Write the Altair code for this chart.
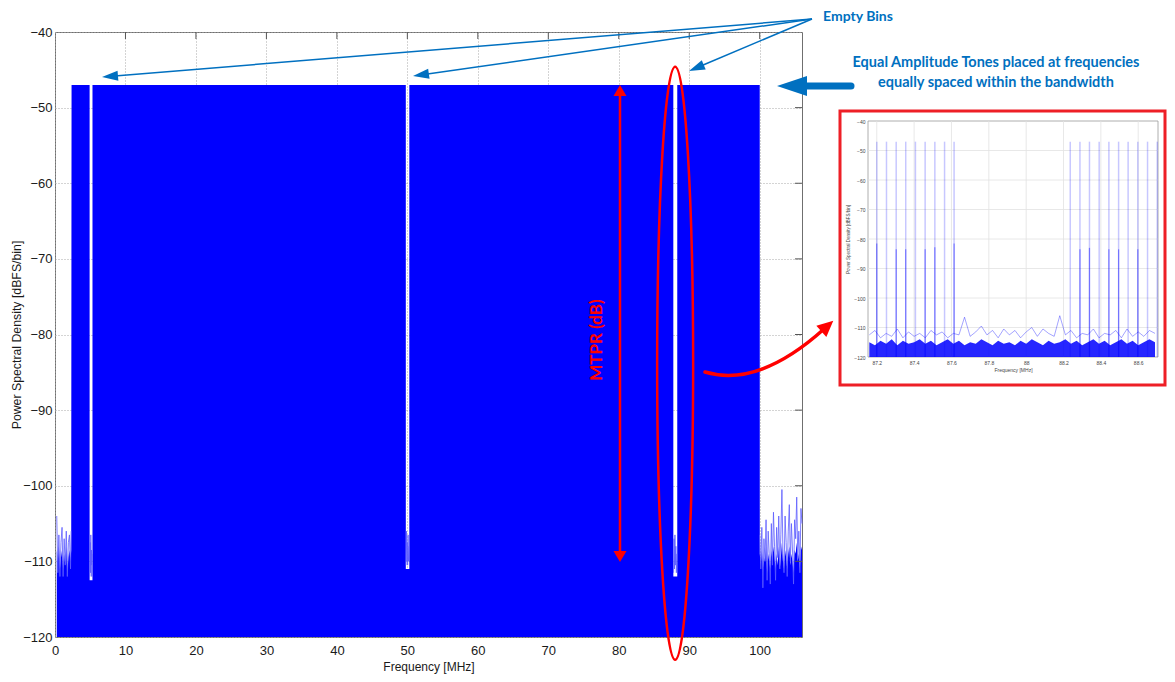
import math
import altair as alt
import pandas as pd

# ---------------- main spectrum data ----------------
x_tick_values = [0, 10, 20, 30, 40, 50, 60, 70, 80, 90, 100]
y_tick_values = [-40, -50, -60, -70, -80, -90, -100, -110, -120]

left_noise_freq = [0.25, 0.4, 0.55, 0.7, 0.85, 1.0, 1.15, 1.3, 1.45, 1.6, 1.75, 1.9, 2.05, 2.2, 2.3]
left_noise_floor = [-108.5, -110.0, -108.0, -111.0, -109.5, -108.5, -111.0, -109.0, -110.5, -108.0,
                    -111.5, -109.5, -108.5, -110.0, -108.5]
left_noise_peak = [-104.0, -111.5, -106.5, -112.0, -107.5, -105.5, -112.0, -107.0, -110.5, -106.0,
                   -112.0, -107.5, -106.5, -111.0, -106.0]

band_freq = [2.35, 4.91, 4.911, 5.12, 5.319, 5.32, 49.78, 49.781, 50.03, 50.279, 50.28,
             87.74, 87.741, 88.02, 88.299, 88.30, 100.0]
band_psd = [-47, -47, -112.5, -112.5, -112.5, -47, -47, -111, -111, -111, -47,
            -47, -112, -112, -112, -47, -47]

right_noise_freq = [100.01, 100.15, 100.3, 100.45, 100.6, 100.75, 100.9, 101.05, 101.2, 101.35,
                    101.5, 101.65, 101.8, 101.95, 102.1, 102.25, 102.4, 102.55, 102.7, 102.85,
                    103.0, 103.15, 103.3, 103.45, 103.6, 103.75, 103.9, 104.05, 104.2, 104.35,
                    104.5, 104.65, 104.8, 104.95, 105.1, 105.25, 105.4, 105.55, 105.7, 105.85,
                    106.0]
right_noise_floor = [-109.0, -110.5, -108.5, -111.0, -109.5, -110.0, -108.0, -111.5, -109.0, -110.0,
                     -111.0, -108.5, -110.0, -108.0, -109.5, -111.0, -109.0, -110.5, -108.0, -111.0,
                     -109.5, -107.5, -110.0, -111.0, -108.5, -109.5, -111.0, -109.0, -108.0, -110.5,
                     -109.0, -110.0, -111.5, -108.5, -109.0, -107.5, -110.0, -109.0, -111.0, -108.0,
                     -108.5]
right_noise_peak = [-106.5, -111.0, -105.5, -113.5, -107.0, -110.0, -104.5, -112.5, -106.0, -109.0,
                    -113.0, -105.0, -110.5, -103.5, -108.0, -112.5, -105.5, -109.5, -104.0, -111.0,
                    -106.5, -100.5, -109.0, -111.5, -104.0, -107.5, -112.0, -106.0, -102.5, -110.0,
                    -105.0, -108.5, -113.0, -104.5, -107.0, -101.5, -109.5, -106.0, -111.5, -103.0,
                    -105.0]

notch_group = ["n5"] * 8 + ["n50"] * 8 + ["n88"] * 8
notch_freq = [4.96, 5.0, 5.04, 5.08, 5.13, 5.18, 5.22, 5.27,
              49.82, 49.87, 49.93, 49.98, 50.04, 50.10, 50.17, 50.23,
              87.78, 87.84, 87.90, 87.97, 88.03, 88.10, 88.17, 88.24]
notch_psd = [-112.0, -107.5, -111.5, -106.5, -110.5, -108.5, -112.0, -109.0,
             -110.5, -106.0, -110.0, -107.5, -110.5, -106.5, -110.0, -108.0,
             -111.5, -107.0, -111.0, -106.5, -110.5, -108.0, -111.5, -109.0]

# ---------------- inset (zoom around 88 MHz) data ----------------
inset_x_ticks = [87.2, 87.4, 87.6, 87.8, 88.0, 88.2, 88.4, 88.6]
inset_domain = [87.153, 88.706]
inset_tone_freq = [87.200, 87.252, 87.304, 87.355, 87.407, 87.459, 87.511, 87.563, 87.614,
                   88.236, 88.288, 88.339, 88.391, 88.443, 88.495, 88.546, 88.598, 88.650, 88.702]
inset_tone_top = [-47] * 19
inset_tone_mid = [-81.5, None, -83.5, -83.5, None, -83.5, -82.8, None, -81.5,
                  None, -83.5, -83.0, None, -83.5, -83.5, None, -83.5, None, None]
inset_noise_freq = [87.16, 87.19, 87.22, 87.25, 87.28, 87.31, 87.34, 87.37, 87.40, 87.43,
                    87.46, 87.49, 87.52, 87.55, 87.58, 87.61, 87.64, 87.67, 87.70, 87.73,
                    87.76, 87.79, 87.82, 87.85, 87.88, 87.91, 87.94, 87.97, 88.00, 88.03,
                    88.06, 88.09, 88.12, 88.15, 88.18, 88.21, 88.24, 88.27, 88.30, 88.33,
                    88.36, 88.39, 88.42, 88.45, 88.48, 88.51, 88.54, 88.57, 88.60, 88.63,
                    88.66, 88.69]
inset_noise_floor = [-115.0, -116.0, -114.5, -115.5, -114.0, -116.0, -114.5, -115.5, -115.0, -114.0,
                     -115.5, -114.5, -116.0, -115.0, -114.0, -115.5, -114.5, -116.0, -115.0, -115.5,
                     -114.0, -115.0, -116.0, -114.5, -115.5, -115.0, -116.0, -114.5, -115.5, -114.0,
                     -115.0, -116.0, -114.5, -115.5, -115.0, -114.0, -115.5, -114.5, -116.0, -115.0,
                     -114.0, -115.5, -114.5, -116.0, -115.0, -114.0, -115.5, -114.5, -116.0, -115.0,
                     -114.0, -115.0]
inset_noise_peak = [-112.5, -111.0, -113.5, -112.0, -113.0, -110.5, -113.5, -111.5, -113.0, -112.0,
                    -113.5, -111.0, -112.5, -111.5, -113.5, -112.0, -112.5, -106.5, -113.0, -111.5,
                    -109.5, -112.5, -111.0, -113.5, -110.5, -112.5, -111.0, -113.5, -111.5, -110.0,
                    -113.0, -110.5, -112.0, -113.0, -106.0, -112.5, -111.0, -113.5, -112.0, -112.5,
                    -110.5, -113.5, -112.0, -112.5, -111.0, -113.5, -110.5, -113.0, -111.5, -113.0,
                    -111.0, -112.0]

# ---------------- layout constants ----------------
W, H = 747, 605           # main plot area
OX, OY = 55, 32           # page position of plot origin
BLUE = "#0000ff"
ANN_BLUE = "#0070C0"
RED = "#ff0000"
FONT = "Liberation Sans"
ANN_FONT = "Lato"

one = pd.DataFrame({"k": [0]})


def px(x):
    return x - OX


def py(y):
    return y - OY


def segment(x1, y1, x2, y2, color, width, cap="butt"):
    return alt.Chart(one).mark_rule(color=color, strokeWidth=width, strokeCap=cap).encode(
        x=alt.value(px(x1)), y=alt.value(py(y1)), x2=alt.value(px(x2)), y2=alt.value(py(y2)))


def head(tipx, tipy, dx, dy, length, half, color):
    n = math.hypot(dx, dy)
    ux, uy = dx / n, dy / n
    cx, cy = tipx - ux * length / 2, tipy - uy * length / 2
    w = 2 * half / length
    shape = f"M0,-1L{w:.4f},1L{-w:.4f},1Z"
    ang = math.degrees(math.atan2(ux, -uy)) % 360
    return alt.Chart(one).mark_point(shape=shape, size=length ** 2, filled=True, color=color,
                                     opacity=1, strokeWidth=0, angle=ang).encode(
        x=alt.value(px(cx)), y=alt.value(py(cy)))


def arrow(sx, sy, tx, ty, color, width, hl, hw):
    dx, dy = tx - sx, ty - sy
    n = math.hypot(dx, dy)
    ex, ey = tx - dx / n * (hl * 0.8), ty - dy / n * (hl * 0.8)
    return [segment(sx, sy, ex, ey, color, width), head(tx, ty, dx, dy, hl, hw, color)]


def label(text, x, y, color, size, angle=0):
    return alt.Chart(one).mark_text(text=text, font=ANN_FONT, fontSize=size, fontWeight="bold",
                                    color=color, align="center", baseline="middle", angle=angle).encode(
        x=alt.value(px(x)), y=alt.value(py(y)))


# ---------------- main layers ----------------
outline = pd.DataFrame({
    "freq": left_noise_freq + band_freq + right_noise_freq,
    "psd": left_noise_floor + band_psd + right_noise_floor,
})
outline["base"] = -120

xs = alt.Scale(domain=[0, 106], nice=False, zero=False)
ys = alt.Scale(domain=[-120, -40], nice=False, zero=False)

axis_x = alt.Axis(values=x_tick_values, title="Frequency [MHz]", grid=True, gridColor="#a8a8a8",
                  gridDash=[1, 2], gridWidth=1, ticks=False, domain=False, labelFont=FONT,
                  labelFontSize=13, labelColor="#1a1a1a", labelPadding=7, labelFlush=False,
                  labelOverlap=False, titleFont=FONT, titleFontSize=12, titleFontWeight="normal",
                  titleColor="#1a1a1a", titlePadding=4)
axis_y = alt.Axis(values=y_tick_values, title="Power Spectral Density [dBFS/bin]", grid=True,
                  gridColor="#a8a8a8", gridDash=[1, 2], gridWidth=1, ticks=False, domain=False,
                  labelFont=FONT, labelFontSize=13, labelColor="#1a1a1a", labelPadding=3,
                  labelFlush=False, labelOverlap=False, titleFont=FONT, titleFontSize=12.3,
                  titleFontWeight="normal", titleColor="#1a1a1a", titlePadding=-1)

area = alt.Chart(outline).mark_area(color=BLUE, opacity=1, interpolate="linear").encode(
    x=alt.X("freq:Q", scale=xs, axis=axis_x),
    y=alt.Y("psd:Q", scale=ys, axis=axis_y, stack=None),
    y2="base:Q",
)

light = pd.DataFrame({
    "freq": left_noise_freq + right_noise_freq + notch_freq,
    "psd": left_noise_peak + right_noise_peak + notch_psd,
    "grp": ["left"] * len(left_noise_freq) + ["right"] * len(right_noise_freq) + notch_group,
})
light_lines = alt.Chart(light).mark_line(color="#5c5cff", opacity=0.8, strokeWidth=1).encode(
    x="freq:Q", y=alt.Y("psd:Q", stack=None), detail="grp:N")

right_ticks = alt.Chart(pd.DataFrame({"psd": y_tick_values[1:-1]})).mark_rule(
    color="#555555", strokeWidth=1).encode(y="psd:Q", x=alt.value(W - 7), x2=alt.value(W))
top_ticks = alt.Chart(pd.DataFrame({"freq": x_tick_values[1:]})).mark_rule(
    color="#555555", strokeWidth=1).encode(x="freq:Q", y=alt.value(0), y2=alt.value(7))

# ---------------- annotations ----------------
ann = []
for tip in [(102, 77), (413, 76), (689, 71)]:
    ann += arrow(812, 19, tip[0], tip[1], ANN_BLUE, 1.5, 16, 5)
ann.append(segment(851, 86, 800, 86, ANN_BLUE, 7, cap="round"))
ann.append(head(777, 86, -1, 0, 30, 10, ANN_BLUE))
ann.append(label("Empty Bins", 858, 17, ANN_BLUE, 14))
ann.append(label("Equal Amplitude Tones placed at frequencies", 996, 63, ANN_BLUE, 14.5))
ann.append(label("equally spaced within the bandwidth", 996, 83, ANN_BLUE, 14.5))

# MTPR double arrow
ann.append(segment(620, 92, 620, 555, RED, 2.5))
ann.append(head(620, 85, 0, -1, 11, 6.5, RED))
ann.append(head(620, 562, 0, 1, 11, 6.5, RED))
ann.append(label("MTPR (dB)", 596.5, 340, RED, 17, angle=270))

# ellipse around the 88 MHz empty bin
ew = 18 / 296.5
k = 0.5523
ell = (f"M0,-1C{k*ew:.4f},-1 {ew:.4f},{-k} {ew:.4f},0C{ew:.4f},{k} {k*ew:.4f},1 0,1"
       f"C{-k*ew:.4f},1 {-ew:.4f},{k} {-ew:.4f},0C{-ew:.4f},{-k} {-k*ew:.4f},-1 0,-1Z")
ann.append(alt.Chart(one).mark_point(shape=ell, size=593 ** 2, filled=False, color=RED,
                                     strokeWidth=2.5, opacity=1).encode(
    x=alt.datum(88.0), y=alt.datum(-83.8)))

# curved red arrow to the inset
curve = "M650,340C690,352 730,332 769,297"
ann.append(alt.Chart(one).mark_point(shape=curve, size=4, filled=False, color=RED,
                                     strokeWidth=3.5, opacity=1, strokeCap="round").encode(
    x=alt.value(0), y=alt.value(0)))
ann.append(head(833.3, 320.7, 18, -16, 16, 7.5, RED))

# inset frame
ann.append(alt.Chart(one).mark_rect(fillOpacity=0, stroke="#ee1f26", strokeWidth=3).encode(
    x=alt.value(px(840)), x2=alt.value(px(1165)), y=alt.value(py(111)), y2=alt.value(py(385))))

main = alt.layer(area, light_lines, right_ticks, top_ticks, *ann)

# ---------------- inset layers ----------------
ixs = alt.Scale(domain=inset_domain, range=[px(868), px(1158)], nice=False, zero=False)
iys = alt.Scale(domain=[-120, -40], range=[py(357), py(121)], nice=False, zero=False)
iax = alt.Axis(orient="bottom", offset=py(357) - H, values=inset_x_ticks, format="~g",
               title="Frequency [MHz]", grid=False, ticks=False, domain=False, labelFont=FONT,
               labelFontSize=5, labelColor="#444444", labelPadding=3, labelFlush=False,
               labelOverlap=False, titleFont=FONT, titleFontSize=5, titleFontWeight="normal",
               titleColor="#444444", titlePadding=2, zindex=1)
iay = alt.Axis(orient="left", offset=-px(868), values=y_tick_values, title="Power Spectral Density [dBFS/bin]",
               grid=False, ticks=False, domain=False, labelFont=FONT, labelFontSize=5,
               labelColor="#444444", labelPadding=3, labelFlush=False, labelOverlap=False,
               titleFont=FONT, titleFontSize=4.5, titleFontWeight="normal", titleColor="#444444",
               titlePadding=3, zindex=1)

inset_noise = pd.DataFrame({"f": inset_noise_freq, "p": inset_noise_floor, "q": inset_noise_peak})
inset_noise["base"] = -120

i_bg = alt.Chart(one).mark_rect(fill="white", stroke="#9a9a9a", strokeWidth=0.8).encode(
    x=alt.X("a:Q", scale=ixs, axis=iax), y=alt.Y("b:Q", scale=iys, axis=iay),
    x2=alt.datum(inset_domain[1]), y2=alt.datum(-40)).transform_calculate(
    a=str(inset_domain[0]), b="-120")
i_vgrid = alt.Chart(pd.DataFrame({"f": inset_x_ticks})).mark_rule(
    color="#e2e2e2", strokeWidth=0.8).encode(x="f:Q", y=alt.datum(-120), y2=alt.datum(-40))
i_hgrid = alt.Chart(pd.DataFrame({"p": y_tick_values[1:-1]})).mark_rule(
    color="#e2e2e2", strokeWidth=0.8).encode(y="p:Q", x=alt.datum(inset_domain[0]),
                                              x2=alt.datum(inset_domain[1]))
tones = pd.DataFrame({"f": inset_tone_freq, "p": inset_tone_top, "m": inset_tone_mid})
i_tones = alt.Chart(tones).mark_rule(color=BLUE, opacity=0.22, strokeWidth=1.5).encode(
    x="f:Q", y="p:Q", y2=alt.datum(-120))
i_tones_dark = alt.Chart(tones.dropna()).mark_rule(color=BLUE, opacity=0.42, strokeWidth=1.2).encode(
    x="f:Q", y="m:Q", y2=alt.datum(-120))
i_noise = alt.Chart(inset_noise).mark_area(color=BLUE, opacity=0.85).encode(
    x="f:Q", y=alt.Y("p:Q", stack=None), y2="base:Q")
i_peaks = alt.Chart(inset_noise).mark_line(color=BLUE, opacity=0.45, strokeWidth=0.8).encode(
    x="f:Q", y=alt.Y("q:Q", stack=None))

inset = alt.layer(i_bg, i_vgrid, i_hgrid, i_tones, i_tones_dark, i_noise, i_peaks)

chart = alt.layer(main, inset).resolve_scale(
    x="independent", y="independent").resolve_axis(
    x="independent", y="independent").properties(
    width=W, height=H,
    autosize=alt.AutoSizeParams(type="none"),
    padding={"left": 47, "top": 24, "right": 365, "bottom": 37},
).configure_view(stroke="#6f6f6f", strokeWidth=1)

chart.save("out.html", embed_options={"renderer": "svg", "actions": False})
